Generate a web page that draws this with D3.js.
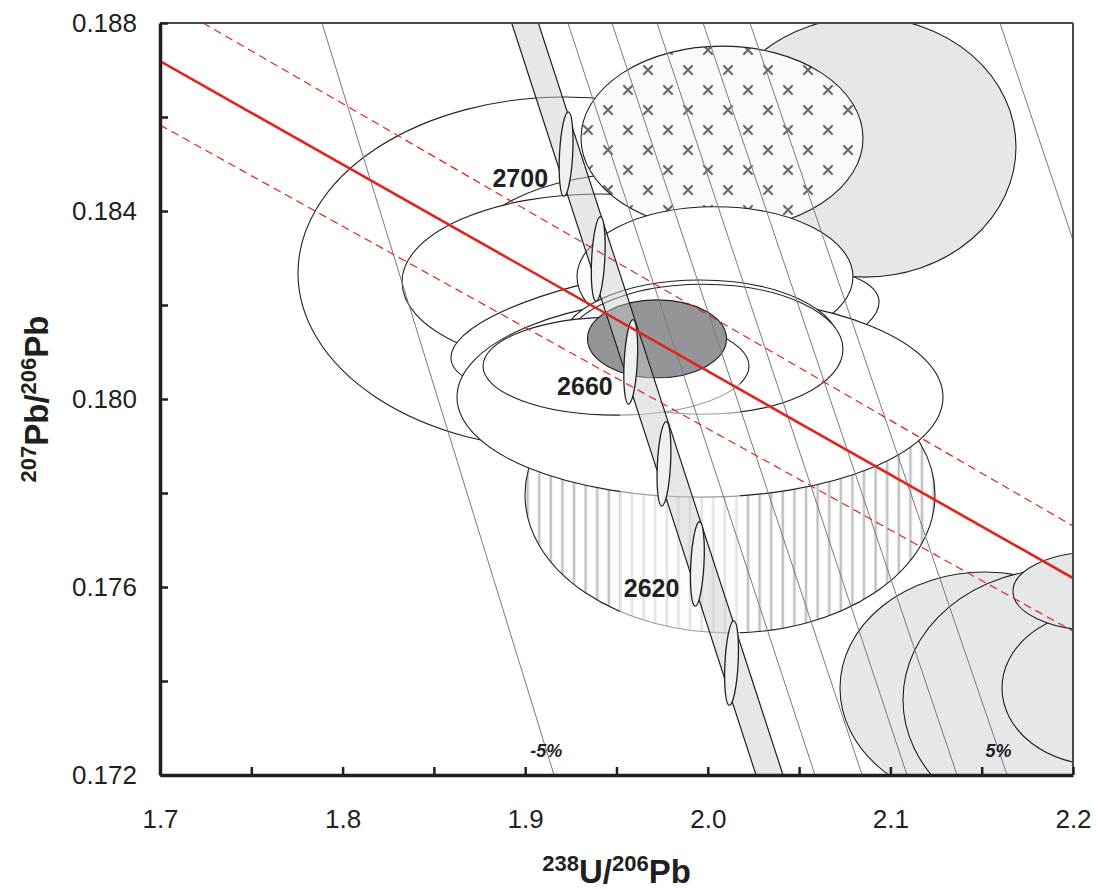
<!DOCTYPE html>
<html>
<head>
<meta charset="utf-8">
<script src="https://cdn.jsdelivr.net/npm/d3@7"></script>
<style>
  html, body { margin: 0; padding: 0; background: #fff; }
  svg { display: block; font-family: "Liberation Sans", Arial, Helvetica, sans-serif; }
</style>
</head>
<body>
<svg id="chart" width="1096" height="890"></svg>
<script>
// ---- axes ----
const xDomain = [1.7, 2.2];
const yDomain = [0.172, 0.188];
const xTickValues = [1.7, 1.8, 1.9, 2.0, 2.1, 2.2];
const xTickLabels = ["1.7", "1.8", "1.9", "2.0", "2.1", "2.2"];
const xMinorTicks = [1.75, 1.85, 1.95, 2.05, 2.15];
const yTickValues = [0.172, 0.176, 0.180, 0.184, 0.188];
const yTickLabels = ["0.172", "0.176", "0.180", "0.184", "0.188"];
const yMinorTicks = [0.174, 0.178, 0.182, 0.186];

// ---- concordia age markers ----
const concordiaAges = [2700, 2680, 2660, 2640, 2620, 2600];
const concordiaX = [1.9224, 1.9400, 1.9578, 1.9760, 1.9943, 2.0130];
const concordiaY = [0.18521, 0.18298, 0.18079, 0.17862, 0.17649, 0.17438];
const concordiaSx = 0.0036;
const concordiaSy = 0.0009;
const labelledAges = [2700, 2660, 2620];

// concordia uncertainty band (edges at the top and bottom of the plot)
const bandY = [0.188, 0.172];
const bandLeftX = [1.8926, 2.0264];
const bandRightX = [1.9072, 2.0412];

// ---- discordance reference lines ----
const discordLabels = ["-5%", "", "", "", "", "5%", ""];
const discordX1 = [1.7887, 1.9234, 1.9475, 1.9722, 1.9974, 2.0231, 2.1600];
const discordY1 = [0.188, 0.188, 0.188, 0.188, 0.188, 0.188, 0.188];
const discordX2 = [1.9158, 2.0587, 2.0845, 2.1091, 2.1365, 2.1639, 2.2];
const discordY2 = [0.172, 0.172, 0.172, 0.172, 0.172, 0.172, 0.18338];
const discordLabelY = 0.17253;

// ---- regression line and its envelope ----
const fitX = [1.7, 2.2];
const fitY = [0.18719, 0.17619];
const upperX = [1.72355, 2.2];
const upperY = [0.188, 0.17730];
const lowerX = [1.7, 2.2];
const lowerY = [0.18583, 0.17506];

// ---- analysis ellipses, listed back to front ----
const spotX  = [1.92180, 1.96287, 1.94097, 2.08609, 2.00778, 2.01216, 1.97656, 2.00394, 1.99573, 1.99573, 1.99737, 1.94973, 1.97218, 2.15181, 2.19288, 2.21479, 2.21205];
const spotY  = [0.18268, 0.18285, 0.18249, 0.18536, 0.18555, 0.17796, 0.18147, 0.18260, 0.18004, 0.18115, 0.18106, 0.18070, 0.18128, 0.17385, 0.17360, 0.17385, 0.17591];
const spotSx = [0.14622, 0.09858, 0.10843, 0.08269, 0.07722, 0.11227, 0.11829, 0.07557, 0.13308, 0.07667, 0.07667, 0.07284, 0.03806, 0.07941, 0.08598, 0.05367, 0.04491];
const spotSy = [0.003745, 0.001957, 0.001872, 0.002766, 0.001957, 0.002936, 0.00128, 0.001489, 0.002128, 0.001383, 0.001383, 0.001043, 0.00083, 0.002468, 0.002787, 0.001638, 0.00083];
const spotTilt = [0, 0, 0, 0, 0, 0, -8, 0, 0, 0, 0, 0, 0, 0, 0, 0, 0];
const spotKind = ["open", "open", "open", "grey", "cross", "hatch", "open", "open", "open", "open", "open", "open", "dark", "grey", "grey", "grey", "grey"];

// faded patch in the lower middle of the diagram
const hazeX = [1.95192, 2.0176];
const hazeY = [0.18045, 0.17487];

// ================= drawing =================
const svg = d3.select("#chart");
const L = 160, R = 1073, T = 23, B = 775;
const x = d3.scaleLinear().domain(xDomain).range([L, R]);
const y = d3.scaleLinear().domain(yDomain).range([B, T]);
const ink = "#231f20";

const defs = svg.append("defs");
defs.append("clipPath").attr("id", "plotClip")
  .append("rect").attr("x", L).attr("y", T).attr("width", R - L).attr("height", B - T);

// cross pattern
const cross = defs.append("pattern").attr("id", "crossFill")
  .attr("patternUnits", "userSpaceOnUse").attr("width", 40).attr("height", 40)
  .attr("x", 0).attr("y", 0);
cross.append("rect").attr("width", 40).attr("height", 40).attr("fill", "#fafafa");
[[8, 30], [28, 10]].forEach(([cx, cy]) => {
  cross.append("path")
    .attr("d", `M${cx - 4},${cy - 4}L${cx + 4},${cy + 4}M${cx - 4},${cy + 4}L${cx + 4},${cy - 4}`)
    .attr("stroke", "#6a6a6a").attr("stroke-width", 2.2).attr("stroke-linecap", "round");
});

// vertical hatch pattern
const hatch = defs.append("pattern").attr("id", "hatchFill")
  .attr("patternUnits", "userSpaceOnUse").attr("width", 11.6).attr("height", 20);
hatch.append("rect").attr("width", 11.6).attr("height", 20).attr("fill", "#ffffff");
hatch.append("rect").attr("x", 4).attr("width", 3.2).attr("height", 20).attr("fill", "#e4e4e4");
hatch.append("rect").attr("x", 4.7).attr("width", 1.8).attr("height", 20).attr("fill", "#bdbdbd");

const fills = { open: "#ffffff", grey: "#e6e7e9", cross: "url(#crossFill)", hatch: "url(#hatchFill)", dark: "#939598" };

const plot = svg.append("g").attr("clip-path", "url(#plotClip)");

// analysis ellipses
const spots = spotX.map((v, i) => ({ cx: v, cy: spotY[i], sx: spotSx[i], sy: spotSy[i], tilt: spotTilt[i], kind: spotKind[i] }));
plot.append("g").selectAll("ellipse").data(spots).join("ellipse")
  .attr("cx", d => x(d.cx))
  .attr("cy", d => y(d.cy))
  .attr("rx", d => x(d.cx + d.sx) - x(d.cx))
  .attr("ry", d => y(d.cy) - y(d.cy + d.sy))
  .attr("transform", d => `rotate(${d.tilt},${x(d.cx)},${y(d.cy)})`)
  .attr("fill", d => fills[d.kind])
  .attr("stroke", ink).attr("stroke-width", 1.1);

// faded patch
plot.append("rect")
  .attr("x", x(hazeX[0])).attr("y", y(hazeY[0]))
  .attr("width", x(hazeX[1]) - x(hazeX[0])).attr("height", y(hazeY[1]) - y(hazeY[0]))
  .attr("fill", "#ffffff").attr("opacity", 0.55);

// discordance reference lines
const discord = discordX1.map((v, i) => ({ x1: v, y1: discordY1[i], x2: discordX2[i], y2: discordY2[i], label: discordLabels[i] }));
plot.append("g").selectAll("line").data(discord).join("line")
  .attr("x1", d => x(d.x1)).attr("y1", d => y(d.y1))
  .attr("x2", d => x(d.x2)).attr("y2", d => y(d.y2))
  .attr("stroke", "#7a7a7a").attr("stroke-width", 1);

// concordia band
const bandPts = [[bandLeftX[0], bandY[0]], [bandLeftX[1], bandY[1]], [bandRightX[1], bandY[1]], [bandRightX[0], bandY[0]]];
plot.append("path")
  .attr("d", d3.line().x(d => x(d[0])).y(d => y(d[1]))(bandPts) + "Z")
  .attr("fill", "rgb(200,201,204)").attr("fill-opacity", 0.45).attr("stroke", "none");
[bandLeftX, bandRightX].forEach(edge => {
  plot.append("line")
    .attr("x1", x(edge[0])).attr("y1", y(bandY[0]))
    .attr("x2", x(edge[1])).attr("y2", y(bandY[1]))
    .attr("stroke", ink).attr("stroke-width", 1.2);
});

// concordia age ellipses
const ages = concordiaAges.map((a, i) => ({ age: a, cx: concordiaX[i], cy: concordiaY[i] }));
plot.append("g").selectAll("ellipse").data(ages).join("ellipse")
  .attr("cx", d => x(d.cx)).attr("cy", d => y(d.cy))
  .attr("rx", d => x(d.cx + concordiaSx) - x(d.cx))
  .attr("ry", d => y(d.cy) - y(d.cy + concordiaSy))
  .attr("transform", d => `rotate(3,${x(d.cx)},${y(d.cy)})`)
  .attr("fill", "#eff0f2").attr("stroke", ink).attr("stroke-width", 1.3);

// regression line and envelope
const red = "#e2231a";
plot.append("line")
  .attr("x1", x(upperX[0])).attr("y1", y(upperY[0])).attr("x2", x(upperX[1])).attr("y2", y(upperY[1]))
  .attr("stroke", red).attr("stroke-width", 1.2).attr("stroke-dasharray", "8,5");
plot.append("line")
  .attr("x1", x(lowerX[0])).attr("y1", y(lowerY[0])).attr("x2", x(lowerX[1])).attr("y2", y(lowerY[1]))
  .attr("stroke", red).attr("stroke-width", 1.2).attr("stroke-dasharray", "8,5");
plot.append("line")
  .attr("x1", x(fitX[0])).attr("y1", y(fitY[0])).attr("x2", x(fitX[1])).attr("y2", y(fitY[1]))
  .attr("stroke", red).attr("stroke-width", 2.6);

// age labels
svg.append("g").selectAll("text").data(ages.filter(d => labelledAges.includes(d.age))).join("text")
  .attr("x", d => x(d.cx) - 18).attr("y", d => y(d.cy) + 33)
  .attr("text-anchor", "end")
  .attr("font-size", 25).attr("font-weight", "bold").attr("fill", ink)
  .text(d => d.age);

// discordance labels
svg.append("g").selectAll("text").data(discord.filter(d => d.label)).join("text")
  .attr("x", d => x(d.x1 + (d.x2 - d.x1) * (d.y1 - discordLabelY) / (d.y1 - d.y2)))
  .attr("y", y(discordLabelY) + 7)
  .attr("text-anchor", "middle")
  .attr("font-size", 18).attr("font-weight", "bold").attr("font-style", "italic").attr("fill", ink)
  .text(d => d.label);

// frame: top and right
svg.append("line").attr("x1", L).attr("y1", T).attr("x2", R).attr("y2", T).attr("stroke", "#4a4a4a").attr("stroke-width", 2);
svg.append("line").attr("x1", R).attr("y1", T).attr("x2", R).attr("y2", B).attr("stroke", "#4a4a4a").attr("stroke-width", 2);

// x axis
svg.append("g").attr("transform", `translate(0,${B})`)
  .call(d3.axisBottom(x).tickValues(xTickValues).tickFormat((d, i) => xTickLabels[i])
    .tickSize(-8).tickSizeOuter(0).tickPadding(35));
svg.append("g").attr("transform", `translate(0,${B})`)
  .call(d3.axisBottom(x).tickValues(xMinorTicks).tickFormat("").tickSize(-8).tickSizeOuter(0))
  .call(g => g.select(".domain").remove());

// y axis
svg.append("g").attr("transform", `translate(${L},0)`)
  .call(d3.axisLeft(y).tickValues(yTickValues).tickFormat((d, i) => yTickLabels[i])
    .tickSize(-8).tickSizeOuter(0).tickPadding(23));
svg.append("g").attr("transform", `translate(${L},0)`)
  .call(d3.axisLeft(y).tickValues(yMinorTicks).tickFormat("").tickSize(-8).tickSizeOuter(0))
  .call(g => g.select(".domain").remove());

svg.selectAll(".domain").attr("stroke", ink).attr("stroke-width", 3.5);
svg.selectAll(".tick line").attr("stroke", ink).attr("stroke-width", 2.5);
svg.selectAll(".tick text").attr("font-size", 26).attr("fill", ink)
  .attr("font-family", "'Liberation Sans', Arial, sans-serif");

// axis titles
const xt = svg.append("text").attr("x", (L + R) / 2).attr("y", 883).attr("text-anchor", "middle")
  .attr("font-weight", "bold").attr("fill", ink).attr("font-size", 33);
xt.append("tspan").attr("font-size", 22).attr("dy", -12).text("238");
xt.append("tspan").attr("dy", 12).text("U/");
xt.append("tspan").attr("font-size", 22).attr("dy", -12).text("206");
xt.append("tspan").attr("dy", 12).text("Pb");

const yt = svg.append("text").attr("transform", `translate(48,${(T + B) / 2}) rotate(-90)`)
  .attr("text-anchor", "middle").attr("font-weight", "bold").attr("fill", ink).attr("font-size", 33);
yt.append("tspan").attr("font-size", 22).attr("dy", -12).text("207");
yt.append("tspan").attr("dy", 12).text("Pb/");
yt.append("tspan").attr("font-size", 22).attr("dy", -12).text("206");
yt.append("tspan").attr("dy", 12).text("Pb");
</script>
</body>
</html>
